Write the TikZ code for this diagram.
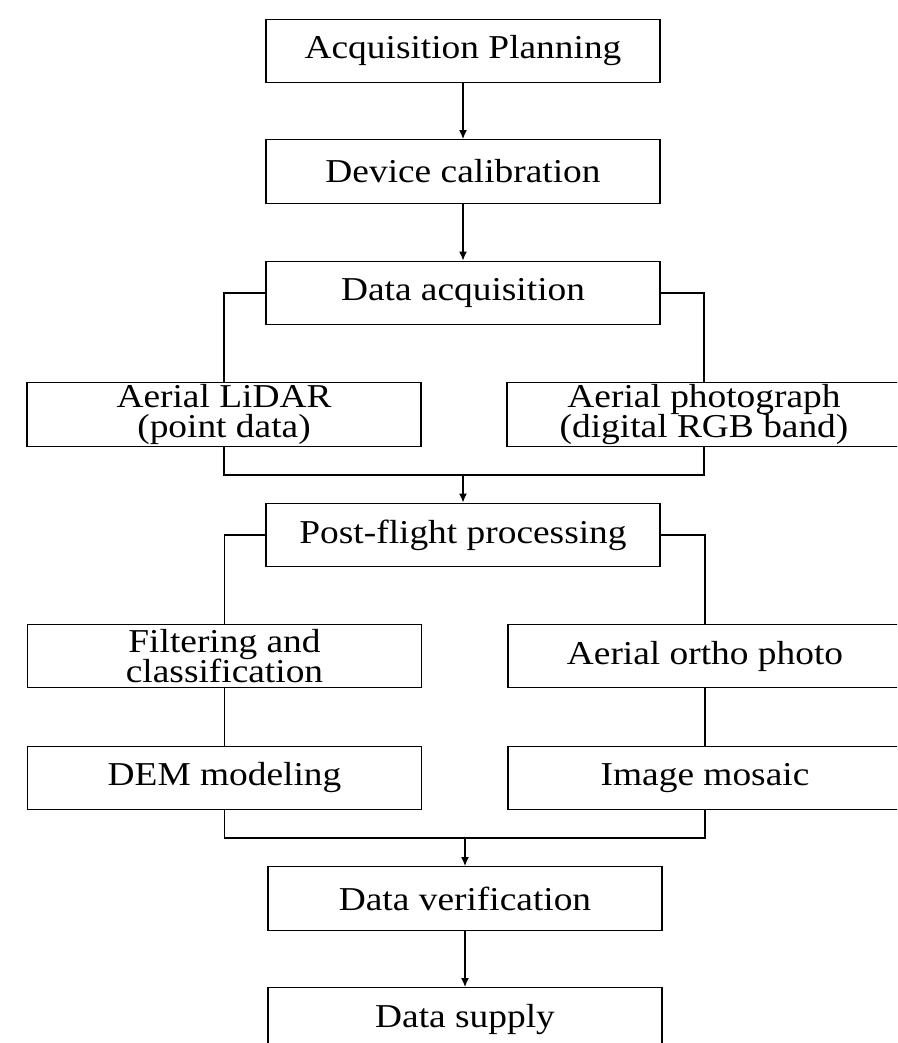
\documentclass[tikz,border=0pt]{standalone}
\usepackage{fontspec}
\setmainfont[FakeStretch = 1.12]{Liberation Serif}
\usetikzlibrary{arrows.meta}

\tikzset{
	stage/.style = {draw, line width = 0.8pt, minimum width = 7.88cm,
		minimum height = 1.27cm, inner sep = 0pt, align = center,
		font = \fontsize{19}{17.5}\selectfont},
	flow/.style = {line width = 0.8pt, -{Latex[length = 1.8mm, width = 1.6mm]}},
	link/.style = {line width = 0.8pt}
}

\begin{document}
\begin{tikzpicture}[x = 0.02cm, y = -0.02cm]
\useasboundingbox (0, 0) rectangle (897, 1043);
\clip (0, 0) rectangle (897, 1043);

\node[stage] (plan) at (463, 51) {Acquisition Planning};
\node[stage] (calib) at (463, 171.5) {Device calibration};
\node[stage] (acq) at (463, 293) {Data acquisition};

\node[stage] (lidar) at (224, 414.5) {Aerial LiDAR\\(point data)};
\node[stage] (photo) at (704, 414.5) {Aerial photograph\\(digital RGB band)};

\node[stage] (post) at (463, 535) {Post-flight processing};

\node[stage] (filter) at (224.5, 656) {Filtering and\\classification};
\node[stage] (ortho) at (705, 656) {Aerial ortho photo};
\node[stage] (dem) at (224.5, 778) {DEM modeling};
\node[stage] (mosaic) at (705, 778) {Image mosaic};

\node[stage] (verif) at (465, 898.5) {Data verification};
\node[stage] (supply) at (465, 1019.5) {Data supply};

% joints where the two branches meet
\coordinate (join1) at (463, 475);
\coordinate (join2) at (465, 838);

\draw[flow] (plan) -- (calib);
\draw[flow] (calib) -- (acq);

\draw[link] (acq.west) -| (lidar.north);
\draw[link] (acq.east) -| (photo.north);
\draw[link] (lidar.south) |- (join1) -| (photo.south);
\draw[flow] (join1) -- (post.north);

\draw[link] (post.west) -| (filter.north);
\draw[link] (post.east) -| (ortho.north);
\draw[link] (filter) -- (dem);
\draw[link] (ortho) -- (mosaic);
\draw[link] (dem.south) |- (join2) -| (mosaic.south);
\draw[flow] (join2) -- (verif.north);

\draw[flow] (verif) -- (supply);
\end{tikzpicture}
\end{document}
